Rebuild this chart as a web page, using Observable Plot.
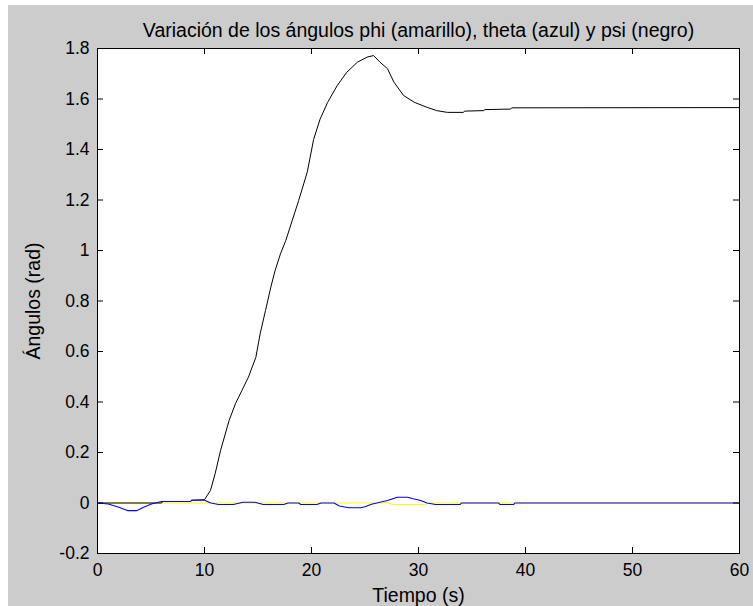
<!DOCTYPE html>
<html><head><meta charset="utf-8">
<script src="https://cdn.jsdelivr.net/npm/d3@7"></script>
<script src="https://cdn.jsdelivr.net/npm/@observablehq/plot@0.6"></script>
<style>
html,body{margin:0;padding:0;background:#fff;overflow:hidden;}
#wrap{position:absolute;left:8px;top:5px;width:745px;height:601px;background:#cccccc;}
</style></head><body><div id="wrap"></div>
<script>
const title = "Variación de los ángulos phi (amarillo), theta (azul) y psi (negro)";
const xLabel = "Tiempo (s)";
const yLabel = "Ángulos (rad)";

const xTicks = [0, 10, 20, 30, 40, 50, 60];
const xTickLabels = ["0", "10", "20", "30", "40", "50", "60"];
const yTicks = [-0.2, 0, 0.2, 0.4, 0.6, 0.8, 1, 1.2, 1.4, 1.6, 1.8];
const yTickLabels = ["-0.2", "0", "0.2", "0.4", "0.6", "0.8", "1", "1.2", "1.4", "1.6", "1.8"];

// psi (black)
const psiT = [0, 6, 6.1, 8.7, 8.8, 10.0, 10.56, 11.0, 11.5, 12.3, 12.9, 13.5, 14.1, 14.8, 15.2, 15.7, 16.2, 16.6, 17.1, 17.6, 18.2, 18.8, 19.6, 20.2, 20.8, 21.5, 22.4, 23.3, 24.3, 25.2, 25.8, 26.4, 27.1, 27.7, 28.6, 29.6, 30.8, 31.7, 32.7, 34.2, 34.3, 36.1, 36.2, 38.6, 38.7, 60];
const psiV = [0, 0, 0.006, 0.006, 0.011, 0.013, 0.05, 0.117, 0.208, 0.327, 0.394, 0.446, 0.498, 0.577, 0.67, 0.762, 0.855, 0.921, 0.987, 1.04, 1.119, 1.198, 1.31, 1.44, 1.52, 1.586, 1.653, 1.706, 1.746, 1.766, 1.772, 1.746, 1.72, 1.667, 1.614, 1.587, 1.567, 1.554, 1.547, 1.547, 1.552, 1.554, 1.558, 1.56, 1.565, 1.566];

// theta (blue)
const thetaT = [0, 1.0, 2.0, 2.8, 3.7, 4.3, 5.1, 6.0, 8.7, 8.8, 10.0, 10.6, 11.3, 12.7, 13.6, 14.7, 15.5, 17.4, 17.8, 18.8, 19.0, 20.5, 20.9, 22.1, 22.6, 23.5, 24.6, 25.0, 25.6, 26.4, 27.1, 27.6, 28.0, 29.0, 29.5, 30.2, 30.8, 31.6, 33.9, 34.0, 37.5, 37.6, 38.9, 39.0, 60];
const thetaV = [0, -0.004, -0.017, -0.03, -0.03, -0.017, -0.003, 0.006, 0.006, 0.011, 0.011, 0, -0.006, -0.006, 0.003, 0.003, -0.006, -0.006, 0, 0, -0.006, -0.006, 0, 0, -0.012, -0.019, -0.019, -0.015, -0.005, 0.003, 0.01, 0.017, 0.023, 0.023, 0.017, 0.01, 0, -0.006, -0.006, 0, 0, -0.006, -0.006, 0, 0];

// phi (yellow)
const phiT = [0, 26.4, 27.0, 27.6, 30.5, 31.0, 60];
const phiV = [0, 0, 0.002, -0.006, -0.006, 0, 0];

const toRows = (T, V) => T.map((t, i) => ({t, v: V[i]}));
const psi = toRows(psiT, psiV);
const theta = toRows(thetaT, thetaV);
const phi = toRows(phiT, phiV);

const W = 745, H = 601, mL = 89, mR = 14, mT = 43, mB = 53;
const fw = W - mL - mR, fh = H - mT - mB;
const tk = 6;

const chart = Plot.plot({
  width: W, height: H,
  marginLeft: mL, marginRight: mR, marginTop: mT, marginBottom: mB,
  style: {background: "transparent", fontFamily: "'Liberation Sans', Arial, sans-serif", fontSize: "17.5px", color: "black", overflow: "visible"},
  x: {domain: [0, 60]},
  y: {domain: [-0.2, 1.8]},
  marks: [
    Plot.frame({fill: "white", stroke: null}),
    Plot.line(phi, {x: "t", y: "v", stroke: "#ffff00", strokeWidth: 1.1}),
    Plot.line(psi, {x: "t", y: "v", stroke: "#000000", strokeWidth: 1}),
    Plot.line(theta, {x: "t", y: "v", stroke: "#0000ff", strokeWidth: 1.1}),
    Plot.frame({stroke: "black", strokeWidth: 1}),
    Plot.tickX(xTicks, {x: d => d, insetTop: fh - tk, stroke: "black"}),
    Plot.tickX(xTicks, {x: d => d, insetBottom: fh - tk, stroke: "black"}),
    Plot.tickY(yTicks, {y: d => d, insetRight: fw - tk, stroke: "black"}),
    Plot.tickY(yTicks, {y: d => d, insetLeft: fw - tk, stroke: "black"}),
    Plot.axisX(xTicks, {tickSize: 0, tickPadding: 10, label: null, tickFormat: d => xTickLabels[xTicks.indexOf(d)]}),
    Plot.axisY(yTicks, {tickSize: 0, tickPadding: 8, label: null, tickFormat: d => yTickLabels[yTicks.indexOf(d)]}),
    Plot.text([title], {frameAnchor: "top", lineAnchor: "middle", textAnchor: "middle", dy: -18, fontSize: 19.5, fill: "black"}),
    Plot.text([xLabel], {frameAnchor: "bottom", lineAnchor: "middle", textAnchor: "middle", dy: 42, fontSize: 19.5, fill: "black"}),
    Plot.text([yLabel], {frameAnchor: "left", lineAnchor: "middle", textAnchor: "middle", dx: -64, rotate: -90, fontSize: 19.5, fill: "black"})
  ]
});
document.getElementById("wrap").appendChild(chart);
</script>
</body></html>
